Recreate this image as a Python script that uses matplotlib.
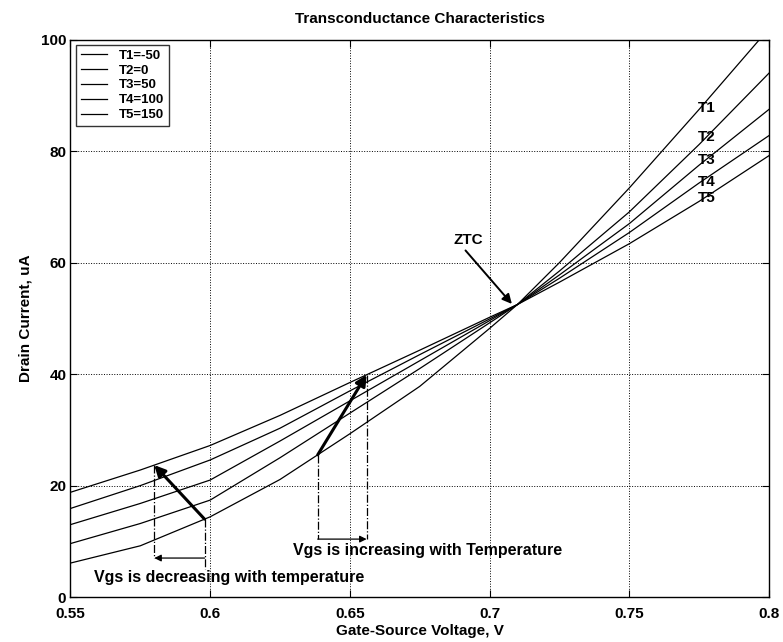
import numpy as np
import matplotlib.pyplot as plt

plt.rcParams['font.family'] = ['Liberation Sans', 'DejaVu Sans']
plt.rcParams['font.weight'] = 'bold'

# gate-source voltage samples, V
vgs = [0.55, 0.575, 0.6, 0.625, 0.65, 0.675, 0.7, 0.71, 0.725, 0.75, 0.775, 0.8]

# drain current, uA, per temperature
t1 = [6.1, 9.2, 14.4, 21.1, 29.3, 37.8, 48.2, 52.5, 60.0, 73.4, 87.5, 102.0]
t2 = [9.6, 13.2, 17.4, 25.0, 33.0, 41.0, 49.2, 52.5, 58.5, 69.1, 81.2, 94.0]
t3 = [13.0, 16.8, 21.0, 28.0, 35.2, 42.4, 49.6, 52.5, 57.8, 67.0, 77.5, 87.5]
t4 = [15.9, 20.0, 24.6, 30.3, 37.0, 43.5, 49.9, 52.5, 57.2, 65.4, 74.3, 82.8]
t5 = [18.8, 22.8, 27.2, 32.6, 38.5, 44.3, 50.2, 52.5, 56.5, 63.4, 71.0, 79.2]

curves = [t1, t2, t3, t4, t5]
legend_labels = ['T1=-50', 'T2=0', 'T3=50', 'T4=100', 'T5=150']
curve_tags = ['T1', 'T2', 'T3', 'T4', 'T5']
tag_y = [87.8, 82.6, 78.5, 74.5, 71.6]

x_ticks = [0.55, 0.6, 0.65, 0.7, 0.75, 0.8]
x_ticklabels = ['0.55', '0.6', '0.65', '0.7', '0.75', '0.8']
y_ticks = [0, 20, 40, 60, 80, 100]

fig = plt.figure(figsize=(7.83, 6.42), dpi=100)
ax = fig.add_axes([0.090, 0.070, 0.892, 0.868])

for c, lab in zip(curves, legend_labels):
    ax.plot(vgs, c, color='black', lw=0.9, label=lab)

ax.set_xlim(0.55, 0.8)
ax.set_ylim(0, 100)
ax.set_xticks(x_ticks)
ax.set_xticklabels(x_ticklabels)
ax.set_yticks(y_ticks)
ax.tick_params(direction='in', top=True, right=True, length=5, labelsize=11)
ax.tick_params(axis='x', pad=7)
ax.tick_params(axis='y', pad=3)
ax.grid(True, color='black', linestyle=':', linewidth=0.7)
for s in ax.spines.values():
    s.set_linewidth(1.0)

ax.set_title('Transconductance Characteristics', fontsize=11, fontweight='bold', pad=12)
ax.set_xlabel('Gate-Source Voltage, V', fontsize=11, fontweight='bold', labelpad=2)
ax.set_ylabel('Drain Current, uA', fontsize=11, fontweight='bold', labelpad=6)

leg = ax.legend(loc='upper left', fontsize=9.5, frameon=True, fancybox=False,
                handlelength=2.0, handletextpad=0.9, labelspacing=0.2, borderpad=0.35,
                borderaxespad=0.0, bbox_to_anchor=(0.008, 0.991))
leg.get_frame().set_edgecolor('black')
leg.get_frame().set_linewidth(1.0)

for tag, ty in zip(curve_tags, tag_y):
    ax.text(0.7745, ty, tag, fontsize=11, fontweight='bold', va='center', ha='left')

# zero temperature coefficient point
ax.text(0.6923, 64.0, 'ZTC', fontsize=11, fontweight='bold', ha='center', va='center')
ax.annotate('', xy=(0.708, 52.6), xytext=(0.6914, 62.2),
            arrowprops=dict(arrowstyle='-|>', color='black', lw=1.4, mutation_scale=14,
                            shrinkA=0, shrinkB=0))

# below ZTC: Vgs decreasing with temperature
xa, xb = 0.598, 0.58
ya = np.interp(xa, vgs, t1)
yb = np.interp(xb, vgs, t5)
ax.annotate('', xy=(xb, yb), xytext=(xa, ya),
            arrowprops=dict(arrowstyle='-|>', color='black', lw=2.2, mutation_scale=16,
                            shrinkA=0, shrinkB=0))
ax.plot([xa, xa], [ya, 5.0], color='black', ls='-.', lw=0.9)
ax.plot([xb, xb], [yb, 7.0], color='black', ls='-.', lw=0.9)
ax.annotate('', xy=(xb, 7.0), xytext=(xa, 7.0),
            arrowprops=dict(arrowstyle='-|>', color='black', lw=0.9, mutation_scale=10,
                            shrinkA=0, shrinkB=0))
ax.text(0.5583, 3.5, 'Vgs is decreasing with temperature', fontsize=11.5, fontweight='bold',
        va='center', ha='left')

# Vgs increasing with temperature
xc, xd = 0.6385, 0.656
yc = np.interp(xc, vgs, t1)
yd = np.interp(xd, vgs, t5)
ax.annotate('', xy=(xd, yd), xytext=(xc, yc),
            arrowprops=dict(arrowstyle='-|>', color='black', lw=2.2, mutation_scale=16,
                            shrinkA=0, shrinkB=0))
ax.plot([xc, xc], [yc, 10.4], color='black', ls='-.', lw=0.9)
ax.plot([xd, xd], [yd, 10.4], color='black', ls='-.', lw=0.9)
ax.annotate('', xy=(xd, 10.4), xytext=(xc, 10.4),
            arrowprops=dict(arrowstyle='-|>', color='black', lw=0.9, mutation_scale=10,
                            shrinkA=0, shrinkB=0))
ax.text(0.6298, 8.3, 'Vgs is increasing with Temperature', fontsize=11.5, fontweight='bold',
        va='center', ha='left')

fig.savefig('out.png', dpi=100)
